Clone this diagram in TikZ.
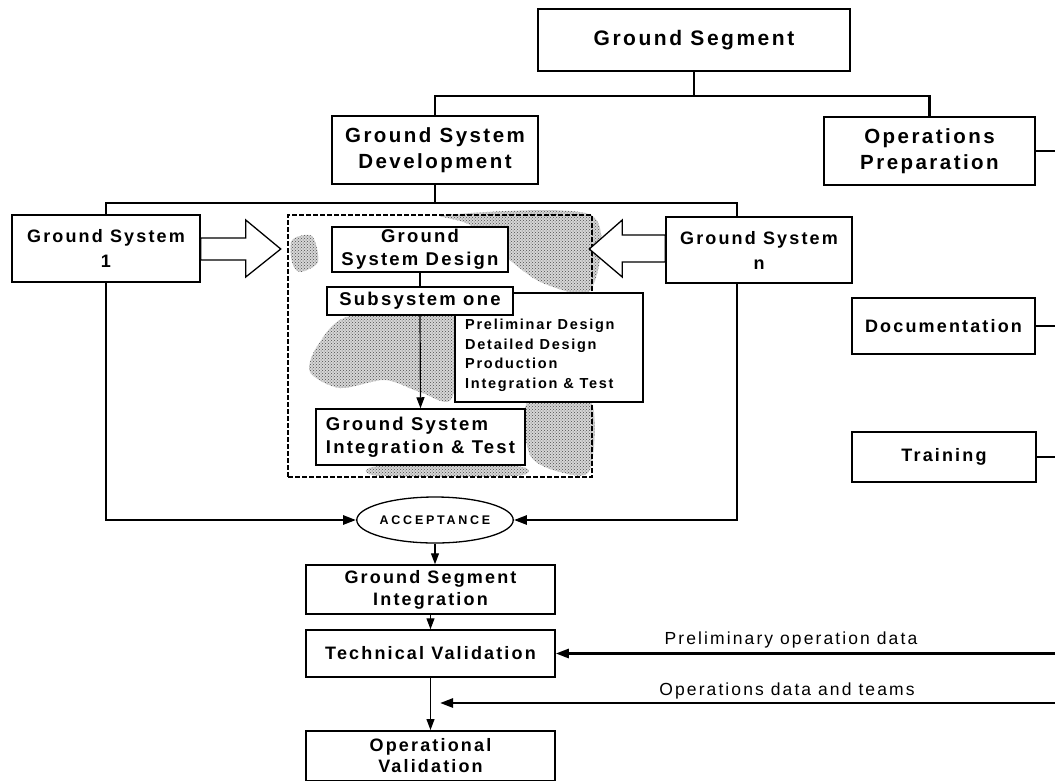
\documentclass[tikz,border=0pt]{standalone}
\usepackage{fontspec}
\setmainfont{Liberation Sans}
\newfontfamily\wsf[LetterSpace=12]{Liberation Sans}
\newfontfamily\xwsf[LetterSpace=22]{Liberation Sans}
\usetikzlibrary{arrows.meta,shapes.geometric,patterns}

\begin{document}
\begin{tikzpicture}[x=1pt,y=-1pt,
  box/.style={draw, line width=1.5pt, fill=white, inner sep=0pt, align=center,
    font=\wsf\bfseries\fontsize{18}{22}\selectfont},
  big/.style={box, font=\wsf\bfseries\fontsize{20.5}{26}\selectfont},
  inner/.style={box, font=\wsf\bfseries\fontsize{18.5}{23}\selectfont},
  bus/.style={line width=2.6pt},
  thin/.style={line width=1.1pt},
  link/.style={line width=1.2pt, -{Triangle[length=11pt,width=8pt]}},
  feed/.style={line width=2.6pt, -{Triangle[length=13pt,width=9pt]}},
  hollow/.style={draw, line width=1.3pt, fill=white, line join=miter},
  lbl/.style={font=\wsf\fontsize{17.5}{20}\selectfont, inner sep=0pt},
  shade/.style={fill=gray!32, postaction={pattern=crosshatch dots, pattern color=gray!60!black}}
]
\useasboundingbox (0,0) rectangle (1055,780);
\fill[white] (0,0) rectangle (1055,780);

% top level of the tree
\node[big, font=\wsf\bfseries\fontsize{21}{26}\selectfont, minimum width=312pt, minimum height=62pt] (gs) at (694,40) {Ground Segment};
\node[big, minimum width=206pt, minimum height=68pt] (gsd) at (435,150) {Ground System\\Development};
\node[big, minimum width=211pt, minimum height=68pt] (op) at (929.5,151) {Operations\\Preparation};

\coordinate (j1) at (694,96);
\draw[bus] (gs.south) -- (j1);
\draw[bus] (gsd.north) -- (gsd.north |- j1) -- (op.north |- j1) -- (op.north);

% operations preparation branch
\node[box, minimum width=183pt, minimum height=56pt] (doc) at (943.5,326) {Documentation};
\node[box, minimum width=184pt, minimum height=50pt] (trn) at (944,457) {Training};
\draw[bus] (op.east) -- ++(22,0);
\draw[bus] (doc.east) -- ++(22,0);
\draw[bus] (trn.east) -- ++(22,0);

% shaded development area
\fill[shade] plot[smooth cycle] coordinates {(445,215) (591,215) (591,290) (545,284) (512,262) (470,225)};
\fill[shade] plot[smooth cycle] coordinates {(350,316) (452,314) (452,398) (420,392) (385,380) (340,388) (310,372) (318,345)};
\fill[shade] plot[smooth cycle] coordinates {(528,402) (590,400) (590,470) (560,472) (530,455)};
\fill[shade] plot[smooth cycle] coordinates {(380,466) (515,466) (515,476) (380,476)};
\fill[shade] plot[smooth cycle] coordinates {(292,240) (312,236) (318,262) (300,272) (292,262)};
\node[draw, dash pattern=on 5pt off 2pt, line width=1.2pt, minimum width=304pt,
  minimum height=262pt, inner sep=0pt] (dev) at (440,346) {};

% ground systems
\node[box, minimum width=188pt, minimum height=67pt, font=\wsf\bfseries\fontsize{18}{25}\selectfont] (gs1) at (106,248.5) {Ground System\\1};
\node[box, minimum width=186pt, minimum height=66pt, font=\wsf\bfseries\fontsize{18}{25}\selectfont] (gsn) at (759,250) {Ground System\\n};
\coordinate (j2) at (435,203);
\coordinate (nt) at ([xshift=-22pt]gsn.north);
\coordinate (nb) at ([xshift=-22pt]gsn.south);
\draw[bus] (gsd.south) -- (j2);
\draw[bus] (gs1.north) |- (j2) -| (nt);

% hollow arrows into the development area
\draw[hollow] (gs1.east) ++(0,-10.5) -- ++(45,0) -- ++(0,-18) -- ++(35,29)
  -- ++(-35,28) -- ++(0,-17) -- ++(-45,0) -- cycle;
\draw[hollow] (gsn.west) ++(0,-15) -- ++(-43,0) -- ++(0,-15) -- ++(-33,29)
  -- ++(33,28) -- ++(0,-15) -- ++(43,0) -- cycle;

% inside the development area
\node[draw, line width=1.2pt, fill=white, minimum width=188pt, minimum height=109pt,
  inner sep=0pt] (pre) at (549,347.5) {};
\node[anchor=north west, align=left, inner sep=0pt,
  font=\wsf\bfseries\fontsize{14.5}{19.5}\selectfont] (pretxt) at (465,319)
  {Preliminar Design\\Detailed Design\\Production\\Integration \& Test};
\node[inner, minimum width=176pt, minimum height=45pt] (gsdes) at (420,249.5) {Ground\\System Design};
\node[inner, minimum width=186pt, minimum height=28pt] (sub) at (420,301) {Subsystem one};
\node[inner, align=left, minimum width=209pt, minimum height=56pt] (gsit) at (420.5,437) {Ground System\\Integration \& Test};
\draw[thin] (gsdes.south) -- (sub.north);
\draw[link] (sub.south) -- (gsit.north);

% acceptance and validation chain
\node[draw, ellipse, line width=1.3pt, fill=white, minimum width=154pt, minimum height=46pt,
  inner sep=0pt, font=\xwsf\bfseries\fontsize{12.5}{14}\selectfont] (acc) at (435,520) {ACCEPTANCE};
\draw[feed] (gs1.south) |- (acc.west);
\draw[feed] (nb) |- (acc.east);

\node[box, minimum width=249pt, minimum height=49pt] (gsi) at (430.5,589.5) {Ground Segment\\Integration};
\node[box, minimum width=249pt, minimum height=47pt] (tv) at (430.5,653.5) {Technical Validation};
\node[box, minimum width=249pt, minimum height=50pt, anchor=north,
  font=\wsf\bfseries\fontsize{18}{21}\selectfont] (ov) at (430.5,730) {Operational\\Validation};
\draw[link] (acc.south) -- (acc.south |- gsi.north);
\draw[link] (gsi.south) -- (tv.north);
\draw[link] (tv.south) -- (ov.north);

% inputs from operations preparation
\coordinate (e1) at (1055,653.5);
\coordinate (e2) at (1055,703);
\coordinate (t2) at (440,703);
\draw[feed] (e1) -- (tv.east);
\draw[feed] (e2) -- (t2);
\node[lbl] (l1) at (791,640) {Preliminary operation data};
\node[lbl] (l2) at (787,691) {Operations data and teams};
\end{tikzpicture}
\end{document}
